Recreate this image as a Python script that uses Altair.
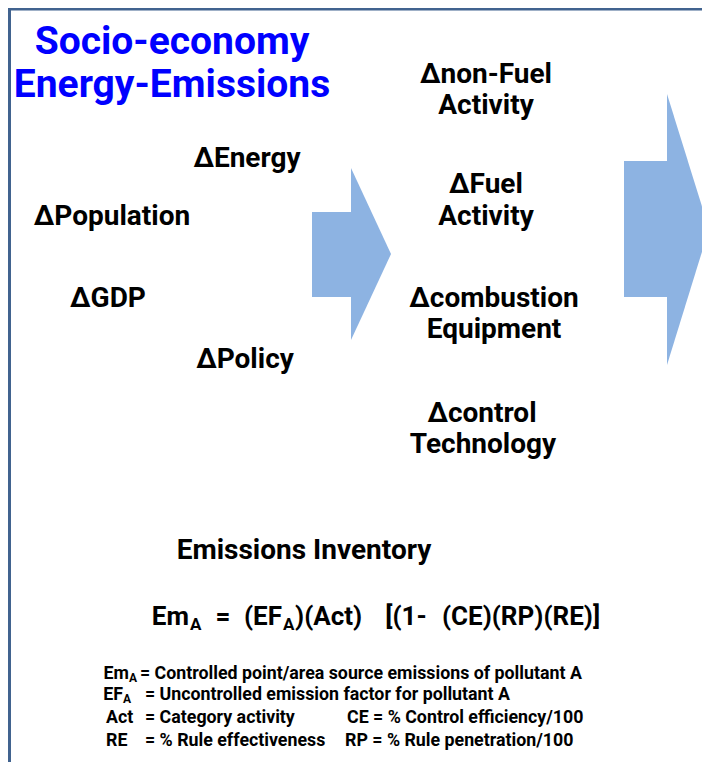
import altair as alt
import pandas as pd

FONT = "Roboto"

# ---- diagram content (reference pixel coordinates) ----
title_lines = ["Socio-economy", "Energy-Emissions"]
title_x = [172, 172]
title_y = [54, 97]

left_labels = ["\u0394Energy", "\u0394Population", "\u0394GDP", "\u0394Policy"]
left_x = [247, 112, 108, 245]
left_y = [167, 225, 307, 368]

right_labels = ["\u0394non-Fuel", "Activity", "\u0394Fuel", "Activity",
                "\u0394combustion", "Equipment", "\u0394control", "Technology"]
right_x = [486, 486, 486, 486, 494, 494, 482, 483]
right_y = [83, 114, 193, 225, 307, 338, 422, 453]

heading = ["Emissions Inventory"]
heading_x = [304]
heading_y = [559]

# formula pieces
formula_right = ["Em", "(EF"]
formula_right_x = [189, 282]
formula_center = ["=", "[(1-", "(CE)(RP)(RE)]"]
formula_center_x = [223, 406, 521]
formula_left = [")(Act)"]
formula_left_x = [295]
formula_y = 625
formula_subs = ["A", "A"]
formula_sub_x = [190, 283]
formula_sub_y = 630

legend_r = ["Em", "EF"]
legend_r_x = [129, 123]
legend_r_y = [679, 700]
legend_l = ["= Controlled point/area source emissions of pollutant A",
            "= Uncontrolled emission factor for pollutant A",
            "Act", "= Category activity", "CE = % Control efficiency/100",
            "RE", "= % Rule effectiveness", "RP = % Rule penetration/100"]
legend_l_x = [140, 145, 106, 145, 347, 106, 145, 345]
legend_l_y = [679, 700, 723, 723, 723, 746, 746, 746]
legend_subs = ["A", "A"]
legend_sub_x = [129, 123]
legend_sub_y = [682, 703]

# arrows: body rectangles and triangular heads
arrow_body_x1 = [312, 624]
arrow_body_x2 = [351, 667]
arrow_body_y1 = [212, 161]
arrow_body_y2 = [297, 297]
arrow_head_base_x = [351, 667]
arrow_head_top = [168, 94]
arrow_head_bottom = [340, 365]
arrow_tip_x = [391, 709]
arrow_tip_y = [254, 229]

# frame (left and top borders) as thin rectangles
frame_x1 = [8, 8]
frame_x2 = [11, 710]
frame_y1 = [6, 6]
frame_y2 = [770, 10.5]

X0, Y0 = 8, 8
W, H = 694, 754
xs = alt.Scale(domain=[X0, X0 + W], nice=False, zero=False)
ys = alt.Scale(domain=[Y0, Y0 + H], nice=False, zero=False, reverse=True)
ARROW = "#8db3e2"
FRAME = "#41638f"


def X(f):
    return alt.X(f, type="quantitative", scale=xs, axis=None)


def Y(f):
    return alt.Y(f, type="quantitative", scale=ys, axis=None)


def text_layer(texts, x, y, size, align="center", color="black"):
    if not isinstance(y, list):
        y = [y] * len(texts)
    df = pd.DataFrame({"t": texts, "x": x, "y": y})
    return alt.Chart(df).mark_text(
        font=FONT, fontWeight="bold", fontSize=size, align=align,
        baseline="alphabetic", color=color, clip=False
    ).encode(x=X("x"), y=Y("y"), text="t:N")


frame_df = pd.DataFrame({"x": frame_x1, "x2": frame_x2, "y": frame_y1, "y2": frame_y2})
frame = alt.Chart(frame_df).mark_rect(color=FRAME).encode(
    x=X("x"), x2="x2:Q", y=Y("y"), y2="y2:Q")

body_df = pd.DataFrame({"x": arrow_body_x1, "x2": arrow_body_x2,
                        "y": arrow_body_y1, "y2": arrow_body_y2})
bodies = alt.Chart(body_df).mark_rect(color=ARROW).encode(
    x=X("x"), x2="x2:Q", y=Y("y"), y2="y2:Q")

heads = []
for i in range(len(arrow_tip_x)):
    hdf = pd.DataFrame({"x": [arrow_head_base_x[i], arrow_tip_x[i]],
                        "y": [arrow_head_top[i], arrow_tip_y[i]],
                        "y2": [arrow_head_bottom[i], arrow_tip_y[i]]})
    heads.append(alt.Chart(hdf).mark_area(color=ARROW, opacity=1).encode(
        x=X("x"), y=Y("y"), y2="y2:Q"))

layers = [bodies] + heads + [
    frame,
    text_layer(title_lines, title_x, title_y, 39, color="#0000ff"),
    text_layer(left_labels, left_x, left_y, 28),
    text_layer(right_labels, right_x, right_y, 28),
    text_layer(heading, heading_x, heading_y, 28),
    text_layer(formula_right, formula_right_x, formula_y, 26, align="right"),
    text_layer(formula_center, formula_center_x, formula_y, 26, align="center"),
    text_layer(formula_left, formula_left_x, formula_y, 26, align="left"),
    text_layer(formula_subs, formula_sub_x, formula_sub_y, 17, align="left"),
    text_layer(legend_r, legend_r_x, legend_r_y, 17.8, align="right"),
    text_layer(legend_l, legend_l_x, legend_l_y, 17.8, align="left"),
    text_layer(legend_subs, legend_sub_x, legend_sub_y, 12, align="left"),
]

chart = alt.layer(*layers).properties(
    width=W, height=H, padding=0, autosize=alt.AutoSizeParams(type="none")
).configure_view(stroke=None)

chart.save("out.html", embed_options={"renderer": "svg", "actions": False})
